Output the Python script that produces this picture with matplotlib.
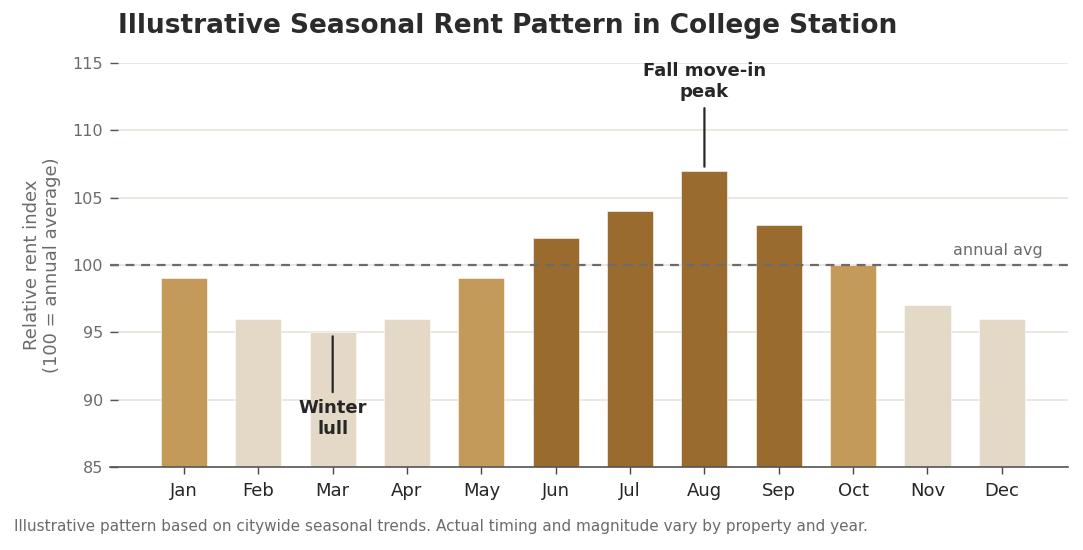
import matplotlib
matplotlib.use("Agg")
import matplotlib.pyplot as plt

months = ["Jan", "Feb", "Mar", "Apr", "May", "Jun",
          "Jul", "Aug", "Sep", "Oct", "Nov", "Dec"]
rent_index = [99, 96, 95, 96, 99, 102, 104, 107, 103, 100, 97, 96]
annual_avg = 100

DARK = "#9A6B2F"
MID = "#C39A5A"
LIGHT = "#E3D9C6"


def bar_color(v):
    if v >= 102:
        return DARK
    if v >= 98:
        return MID
    return LIGHT


def main():
    plt.rcParams['font.family'] = ['DejaVu Sans']
    fig = plt.figure(figsize=(10.83, 5.5), dpi=100)
    ax = fig.add_axes([110 / 1083, 0.151, (1068 - 110) / 1083, 0.7345])

    x = list(range(len(months)))
    ax.bar(x, [v - 85 for v in rent_index], bottom=85, width=0.62,
           color=[bar_color(v) for v in rent_index],
           edgecolor="white", linewidth=0.4, zorder=2)

    ax.axhline(annual_avg, color="#6b6b6b", linestyle=(0, (4, 3)),
               linewidth=1.6, zorder=3)
    ax.text(11.55, annual_avg + 0.5, "annual avg", ha="right", va="bottom",
            fontsize=11.5, color="#6b6b6b")

    ax.set_xlim(-0.995, 11.89)
    ax.set_ylim(85, 115)
    ax.set_yticks([85, 90, 95, 100, 105, 110, 115])
    ax.set_xticks(x)
    ax.set_xticklabels(months, fontsize=13, color="#262626")
    ax.tick_params(axis='y', labelsize=11.5, labelcolor="#6b6b6b",
                   color="#555555", length=6, width=1, direction="in", pad=5)
    ax.tick_params(axis='x', color="#444444", length=5, width=1, pad=6)

    ax.grid(axis='y', color="#E9E4DA", linewidth=1.2, zorder=0)
    ax.set_axisbelow(True)
    for side in ["top", "right", "left"]:
        ax.spines[side].set_visible(False)
    ax.spines["bottom"].set_color("#555555")
    ax.spines["bottom"].set_linewidth(1.2)

    ax.set_ylabel("Relative rent index\n(100 = annual average)",
                  fontsize=13, color="#6b6b6b", labelpad=8)

    ax.annotate("Fall move-in\npeak", xy=(7, 107.3), xytext=(7, 113.6),
                ha="center", va="center", fontsize=13, fontweight="bold",
                color="#262626",
                arrowprops=dict(arrowstyle="-", color="#262626", lw=1.6,
                                shrinkA=3, shrinkB=0))
    ax.annotate("Winter\nlull", xy=(2, 94.7), xytext=(2, 88.6),
                ha="center", va="center", fontsize=13, fontweight="bold",
                color="#262626",
                arrowprops=dict(arrowstyle="-", color="#262626", lw=1.6,
                                shrinkA=3, shrinkB=0))

    fig.text(118 / 1083, 1 - 26 / 550,
             "Illustrative Seasonal Rent Pattern in College Station",
             fontsize=19, fontweight="bold", color="#2b2b2b",
             ha="left", va="center")
    fig.text(14 / 1083, 1 - 527 / 550,
             "Illustrative pattern based on citywide seasonal trends. "
             "Actual timing and magnitude vary by property and year.",
             fontsize=11, color="#6b6b6b", ha="left", va="center")

    fig.savefig("out.png", dpi=100)
    plt.close(fig)


if __name__ == '__main__':
    main()
